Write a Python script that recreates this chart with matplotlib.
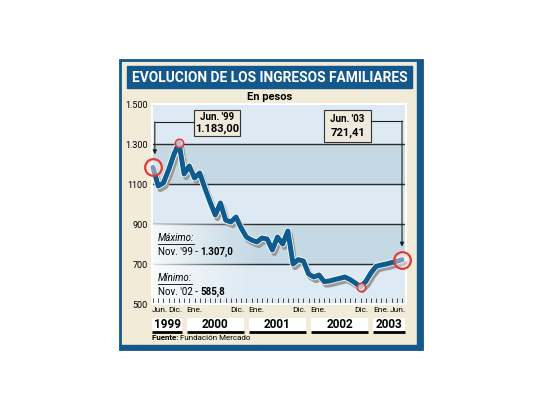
import numpy as np
import matplotlib
matplotlib.use('Agg')
import matplotlib.pyplot as plt
import matplotlib.patheffects as pe
from matplotlib.patches import Rectangle
import matplotlib.transforms as mtransforms

plt.rcParams['font.family'] = ['Roboto', 'DejaVu Sans']

# Data: monthly family income, Jun 1999 .. Jun 2003 (pesos)
months = np.arange(49)
income = [1183.0, 1090, 1105, 1170, 1245, 1307.0, 1150, 1190, 1130, 1155,
          1080, 1010, 945, 1005, 920, 910, 935, 880, 835, 820,
          810, 830, 825, 770, 835, 800, 865, 700, 722, 715,
          650, 635, 645, 612, 615, 622, 628, 635, 622, 605,
          585.8, 612, 655, 688, 695, 700, 707, 714, 721.41]
y_ticks = [500, 700, 900, 1100, 1300, 1500]
y_labels = ['500', '700', '900', '1100', '1.300', '1.500']
dec_idx = [6, 18, 30, 42]
years = ['1999', '2000', '2001', '2002', '2003']
i_max, i_min = 5, 40

# Colours
frame_blue = '#14588b'
line_blue = '#0d5b8f'
beige = '#f1ebd8'
band_light = '#dde9f3'
band_dark = '#c5d9e5'
red = '#e03a3a'

fig = plt.figure(figsize=(5.4, 4.05), dpi=100)
rend = fig.canvas.get_renderer()

# background overlay in pixel coordinates
bg = fig.add_axes([0, 0, 1, 1], zorder=0)
bg.set_xlim(0, 540)
bg.set_ylim(405, 0)
bg.axis('off')
bg.add_patch(Rectangle((120, 60), 302, 289, facecolor=beige, edgecolor=frame_blue, lw=2))
bg.add_patch(Rectangle((417, 60), 5, 289, color=frame_blue))
bg.add_patch(Rectangle((120, 345), 302, 4, color=frame_blue))
bg.add_patch(Rectangle((127, 66), 285, 22, color=frame_blue))


def fit_text(a, x, y, txt, width, size, **kw):
    t = a.text(x, y, txt, fontsize=size, **kw)
    w = t.get_window_extent(rend).width
    t.set_fontsize(size * width / w)
    return t


fit_text(bg, 269.5, 77.5, 'EVOLUCION DE LOS INGRESOS FAMILIARES', 276, 12, color='white',
         weight='bold', ha='center', va='center')
bg.text(270, 97, 'En pesos', fontsize=8, weight='bold', ha='center', va='center')

# chart axes
px_m = (402 - 153) / 48
ax = fig.add_axes([152 / 540, (405 - 304) / 405, 254 / 540, 200 / 405], zorder=1)
ax.set_facecolor(band_light)
for lo, hi, c in [(500, 700, band_light), (700, 900, band_dark), (900, 1100, band_light),
                  (1100, 1300, band_dark), (1300, 1500, band_light)]:
    ax.axhspan(lo, hi, color=c, zorder=0)
for v in y_ticks[1:-1]:
    ax.axhline(v, color='#2a2a2a', lw=1, zorder=1)

# white fading boxes for the max / min notes
grad = np.ones((1, 200, 4))
grad[0, :, 3] = np.linspace(0.9, 0, 200) ** 1.3
ax.imshow(grad, extent=(-0.2, 21, 702, 898), aspect='auto', zorder=1.5, interpolation='bilinear')
ax.imshow(grad, extent=(-0.2, 21, 502, 698), aspect='auto', zorder=1.5, interpolation='bilinear')

ax.plot(months, income, color=line_blue, lw=3.6, solid_joinstyle='round', solid_capstyle='round',
        zorder=3, clip_on=False,
        path_effects=[pe.SimpleLineShadow(offset=(1.5, -2.3), shadow_color='#9a9a9a', alpha=1, rho=1,
                                          linewidth=4.2),
                      pe.Stroke(linewidth=4.8, foreground='white'), pe.Normal()])

# highlighted points
ax.plot([months[0], months[-1]], [income[0], income[-1]], 'o', ms=12, mfc=(1, 0.93, 0.93, 0.45),
        mec=red, mew=1.6, zorder=4, clip_on=False)
ax.plot([months[i_max], months[i_min]], [income[i_max], income[i_min]], 'o', ms=6,
        mfc=(1, 0.93, 0.93, 0.7), mec=red, mew=1.2, zorder=4, clip_on=False)

ax.set_xlim(-(153 - 152) / px_m, 48 + (406 - 402) / px_m)
ax.set_ylim(500, 1500)
ax.set_xticks(months)
ax.tick_params(axis='x', direction='in', length=4, width=0.6, color='#333333', labelbottom=False)
ax.set_yticks(y_ticks, labels=y_labels)
ax.tick_params(axis='y', length=0, pad=3, labelsize=6.5)
for s in ax.spines.values():
    s.set_color('white')
    s.set_linewidth(1.5)


# value callouts
def callout(i, label, value_txt, bx0, bx1, by0, by1, ly, side):
    ax.add_patch(Rectangle((bx0, by1), bx1 - bx0, by0 - by1, facecolor='#efeadb',
                           edgecolor='#333333', lw=0.8, zorder=5, clip_on=False))
    xm = (bx0 + bx1) / 2
    h = by0 - by1
    ax.text(xm, by0 - h * 0.28, label, fontsize=7, weight='bold', ha='center', va='center', zorder=6)
    ax.text(xm, by0 - h * 0.72, value_txt, fontsize=8, weight='bold', ha='center', va='center', zorder=6)
    xa = months[i] + (0.35 if side == 'left' else 0)
    xe = bx0 if side == 'left' else bx1
    ax.plot([xe, xa], [ly, ly], color='#222222', lw=0.8, zorder=5)
    ax.annotate('', xy=(xa, income[i] + 65), xytext=(xa, ly),
                arrowprops=dict(arrowstyle='-|>', color='#222222', lw=0.8, mutation_scale=6,
                                shrinkA=0, shrinkB=0), zorder=5)


callout(0, "Jun. '99", '1.183,00', 7.9, 16.8, 1470, 1340, 1410, 'left')
callout(48, "Jun. '03", '721,41', 33.0, 42.0, 1470, 1310, 1415, 'right')

# foreground overlay for notes
fg = fig.add_axes([0, 0, 1, 1], zorder=2)
fg.set_xlim(0, 540)
fg.set_ylim(405, 0)
fg.axis('off')
fig.canvas.draw()


def seg_text(a, x, y, parts, size=7):
    for txt, w in parts:
        t = a.text(x, y, txt, fontsize=size, weight=w, ha='left', va='center', zorder=5)
        x += t.get_window_extent(rend).width
    return x


def head(x, y, txt):
    t = fg.text(x, y, txt, fontsize=7, style='italic', ha='left', va='center')
    w = t.get_window_extent(rend).width
    fg.plot([x, x + w], [y + 5.5, y + 5.5], color='black', lw=0.6)


head(158, 238, 'Máximo:')
seg_text(fg, 158, 252, [("Nov. '99 - ", 'normal'), ('1.307,0', 'bold')])
head(158, 278, 'Mínimo:')
seg_text(fg, 158, 292, [("Nov. '02 - ", 'normal'), ('585,8', 'bold')])
seg_text(bg, 152, 338, [('Fuente: ', 'bold'), ('Fundación Mercado', 'normal')], size=5.8)

# month labels and year boxes
tr = mtransforms.blended_transform_factory(ax.transData, ax.transAxes)
ax.text(-0.2, -0.032, 'Jun.', fontsize=6, ha='left', va='center', transform=tr)
ax.text(48.7, -0.032, 'Jun.', fontsize=6, ha='right', va='center', transform=tr)
for d in dec_idx:
    ax.text(d - 0.4, -0.032, 'Dic.', fontsize=6, ha='right', va='center', transform=tr)
    ax.text(d + 0.4, -0.032, 'Ene.', fontsize=6, ha='left', va='center', transform=tr)
edges = [-0.1] + dec_idx + [48.6]
for k, yr in enumerate(years):
    x0 = edges[k] + (0.5 if k > 0 else 0)
    x1 = edges[k + 1] - (0.5 if k < len(years) - 1 else 0)
    ax.add_patch(Rectangle((x0, -0.145), x1 - x0, 0.075, facecolor='white', edgecolor='none',
                           transform=tr, clip_on=False))
    ax.plot([x0, x1], [-0.142, -0.142], color='black', lw=2, transform=tr, clip_on=False,
            solid_capstyle='butt')
    ax.text((x0 + x1) / 2, -0.105, yr, fontsize=8.5, weight='bold', ha='center', va='center',
            transform=tr)

fig.savefig('out.png', dpi=100, facecolor='white')
